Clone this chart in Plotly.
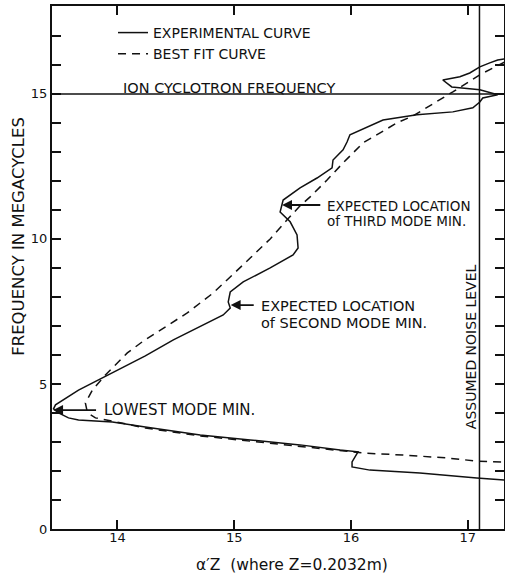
import plotly.graph_objects as go

# experimental curve, traced in drawing order (top right -> bottom right)
exp_x = [17.316, 17.256, 17.188, 17.103, 17.017, 16.932, 16.786, 16.863, 17.103, 17.256,
         17.128, 17.103, 17.043, 16.872, 16.564, 16.274, 15.991, 15.966, 15.932, 15.846,
         15.838, 15.709, 15.564, 15.419, 15.393, 15.479, 15.538, 15.547, 15.504, 15.308,
         15.077, 14.966, 14.949, 14.966, 14.906, 14.769, 14.624, 14.479, 14.239, 13.957,
         13.667, 13.470, 13.453, 13.496, 13.581, 13.667, 13.957, 14.239, 14.709, 15.137,
         15.564, 15.906, 16.060, 16.009, 16.009, 16.162, 16.590, 17.077, 17.316]
exp_y = [16.21, 16.17, 16.07, 15.93, 15.72, 15.59, 15.48, 15.24, 15.14, 14.97,
         14.86, 14.72, 14.52, 14.38, 14.28, 14.10, 13.59, 13.34, 13.07, 12.72,
         12.45, 12.10, 11.76, 11.34, 10.93, 10.59, 10.14, 9.69, 9.45, 9.00,
         8.52, 8.17, 7.83, 7.62, 7.38, 7.10, 6.79, 6.52, 5.97, 5.38,
         4.79, 4.28, 4.14, 4.00, 3.83, 3.76, 3.69, 3.52, 3.24, 3.07,
         2.90, 2.72, 2.66, 2.31, 2.14, 2.03, 1.93, 1.76, 1.69]

# best fit curve
fit_x = [17.316, 17.103, 16.872, 16.530, 16.393, 16.103, 15.932, 15.795, 15.650, 15.564,
         15.453, 15.308, 15.137, 14.966, 14.821, 14.598, 14.368, 14.222, 14.085, 13.897,
         13.786, 13.726, 13.744, 13.812, 13.957, 14.239, 14.709, 15.564, 16.103, 16.444,
         16.821, 17.077, 17.316]
fit_y = [16.10, 15.66, 15.07, 14.24, 14.00, 13.31, 12.62, 12.03, 11.45, 11.14,
         10.66, 10.00, 9.34, 8.69, 8.14, 7.45, 6.86, 6.48, 6.07, 5.31,
         4.79, 4.34, 4.00, 3.83, 3.72, 3.48, 3.21, 2.86, 2.62, 2.55,
         2.45, 2.34, 2.31]

ion_cyclotron_freq = 15.0
noise_level = 17.10

x_ticks = [14, 15, 16, 17]
y_ticks = list(range(0, 18))
y_tick_text = [str(v) if v % 5 == 0 else "" for v in y_ticks]

# (head x, head y, tail x) for the three mode-minimum arrows
arrow_heads = [(15.41, 11.17, 15.75), (14.97, 7.72, 15.18), (13.45, 4.10, 13.83)]
label_text = [
    "EXPECTED LOCATION",
    "of THIRD MODE MIN.",
    "EXPECTED LOCATION",
    "of SECOND MODE MIN.",
    "LOWEST MODE MIN.",
    "ION CYCLOTRON FREQUENCY",
]
# where each label sits (left edge x, middle y) and how big it is lettered
label_pos = [(15.78, 11.14, 13.5), (15.78, 10.62, 13.5), (15.21, 7.70, 14.5),
             (15.21, 7.10, 14.5), (13.87, 4.10, 15), (14.03, 15.21, 14.5)]

FONT = "DejaVu Sans"
INK = "#111"

fig = go.Figure()
fig.add_trace(go.Scatter(x=exp_x, y=exp_y, mode="lines", name="EXPERIMENTAL CURVE",
                         line=dict(color=INK, width=1.5)))
fig.add_trace(go.Scatter(x=fit_x, y=fit_y, mode="lines", name="BEST FIT CURVE",
                         line=dict(color=INK, width=1.5, dash="8px,6px")))

fig.add_hline(y=ion_cyclotron_freq, line=dict(color=INK, width=1.5))
fig.add_vline(x=noise_level, line=dict(color=INK, width=1.5))

for hx, hy, tx in arrow_heads:
    fig.add_annotation(x=hx, y=hy, ax=tx, ay=hy, axref="x", ayref="y", text="",
                       showarrow=True, arrowhead=2, arrowsize=1.1, arrowwidth=1.8,
                       arrowcolor=INK)

for txt, (lx, ly, fs) in zip(label_text, label_pos):
    fig.add_annotation(x=lx, y=ly, text=txt, showarrow=False, xanchor="left",
                       yanchor="middle", font=dict(family=FONT, size=fs, color=INK))

fig.add_annotation(x=17.03, y=6.28, text="ASSUMED NOISE LEVEL", textangle=-90,
                   showarrow=False, font=dict(family=FONT, size=14, color=INK))

# axis titles as paper annotations (explicit anchors, "auto" snaps to the nearest side)
fig.add_annotation(xref="paper", yref="paper", x=0.531, y=-0.069,
                   xanchor="center", yanchor="middle",
                   text="α′Z  (where Z=0.2032m)", showarrow=False,
                   font=dict(family=FONT, size=15.5, color=INK))
fig.add_annotation(xref="paper", yref="paper", x=-0.076, y=0.56,
                   xanchor="center", yanchor="middle",
                   text="FREQUENCY IN MEGACYCLES", textangle=-90, showarrow=False,
                   font=dict(family=FONT, size=16.5, color=INK))

axis_style = dict(showgrid=False, zeroline=False, showline=True, linecolor=INK,
                  linewidth=2, mirror="ticks", ticks="inside", ticklen=9,
                  tickwidth=1.5, tickcolor=INK, automargin=False,
                  tickfont=dict(family=FONT, size=13, color=INK))

fig.update_xaxes(range=[13.44, 17.31], tickvals=x_ticks, ticklabelstandoff=-5,
                 **axis_style)
fig.update_yaxes(range=[0, 18.03], tickvals=y_ticks, ticktext=y_tick_text, **axis_style)

fig.update_layout(
    width=505, height=581,
    margin=dict(l=52, r=1, t=6, b=52),
    paper_bgcolor="white", plot_bgcolor="white",
    showlegend=True,
    legend=dict(x=0.135, y=0.979, xanchor="left", yanchor="top",
                bgcolor="rgba(0,0,0,0)", borderwidth=0, tracegroupgap=0,
                font=dict(family=FONT, size=14, color=INK)),
)

# the page body has an 8px default margin; drop it so the figure sits at 0,0
fig.write_html("out.html", config={"displayModeBar": False},
               post_script="document.body.style.margin='0';"
                           "document.body.style.overflow='hidden';")
